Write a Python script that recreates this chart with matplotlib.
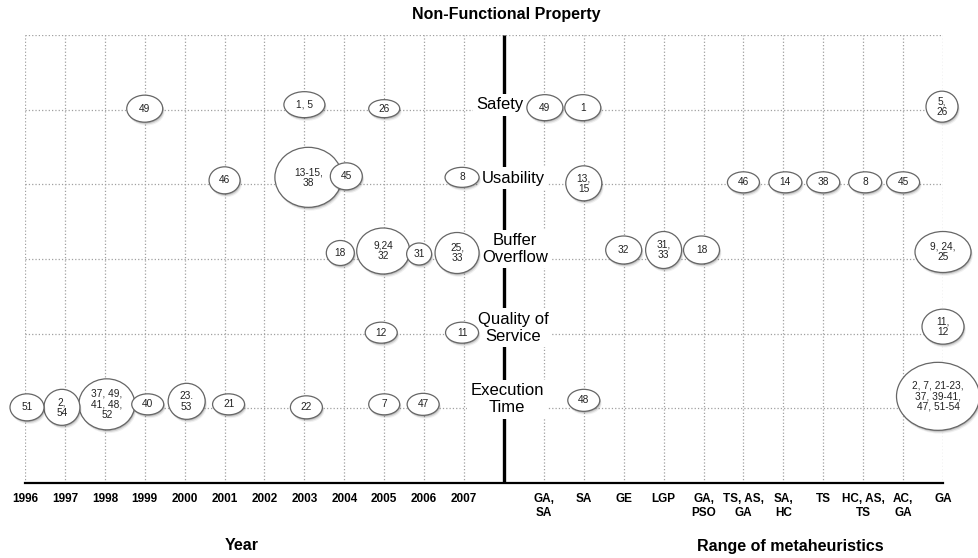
import matplotlib
matplotlib.use("Agg")
import matplotlib.pyplot as plt
from matplotlib.patches import Ellipse
from matplotlib.transforms import ScaledTranslation

plt.rcParams['font.family'] = ['Liberation Sans', 'DejaVu Sans']

# categories
years = ['1996', '1997', '1998', '1999', '2000', '2001', '2002',
         '2003', '2004', '2005', '2006', '2007']
methods = ['GA,\nSA', 'SA', 'GE', 'LGP', 'GA,\nPSO', 'TS, AS,\nGA',
           'SA,\nHC', 'TS', 'HC, AS,\nTS', 'AC,\nGA', 'GA']
# bottom to top
properties = ['Execution\nTime', 'Quality of\nService', 'Buffer\nOverflow',
              'Usability', 'Safety']

# papers per year and property
year_of = ['1999', '2003', '2005',
           '2001', '2003', '2004', '2007',
           '2004', '2005', '2006', '2007',
           '2005', '2007',
           '1996', '1997', '1998', '1999', '2000', '2001', '2003', '2005', '2006']
year_prop = ['Safety'] * 3 + ['Usability'] * 4 + ['Buffer\nOverflow'] * 4 + \
            ['Quality of\nService'] * 2 + ['Execution\nTime'] * 9
year_refs = ['49', '1, 5', '26',
             '46', '13-15,\n38', '45', '8',
             '18', '9,24\n32', '31', '25,\n33',
             '12', '11',
             '51', '2,\n54', '37, 49,\n41, 48,\n52', '40', '23.\n53', '21', '22', '7', '47']

# papers per metaheuristic and property
meth_of = ['GA,\nSA', 'SA', 'GA',
           'SA', 'TS, AS,\nGA', 'SA,\nHC', 'TS', 'HC, AS,\nTS', 'AC,\nGA',
           'GE', 'LGP', 'GA,\nPSO', 'GA',
           'GA',
           'SA', 'GA']
meth_prop = ['Safety'] * 3 + ['Usability'] * 6 + ['Buffer\nOverflow'] * 4 + \
            ['Quality of\nService'] + ['Execution\nTime'] * 2
meth_refs = ['49', '1', '5,\n26',
             '13,\n15', '46', '14', '38', '8', '45',
             '32', '31,\n33', '18', '9, 24,\n25',
             '11,\n12',
             '48', '2, 7, 21-23,\n37, 39-41,\n47, 51-54']

# bubble look: width, height, nudge x, nudge y (pixels)
year_px = [(36, 27, 0, 1), (41, 26, 0, 5), (31, 18, 0, 1),
           (31, 27, 0, 4), (67, 60, 4, 7), (32, 27, 2, 8), (34, 20, -2, 7),
           (28, 25, -4, 6), (53, 46, -1, 8), (25, 22, -5, 5), (44, 41, -7, 6),
           (32, 21, -3, 1), (33, 21, -2, 1),
           (34, 27, 2, 1), (36, 36, -3, 1), (56, 51, 2, 4), (32, 21, 3, 4),
           (37, 36, 2, 7), (32, 21, 4, 4), (32, 23, 2, 1), (31, 21, 0, 4), (32, 22, -1, 4)]
meth_px = [(36, 26, 1, 2), (36, 26, -1, 2), (32, 31, -1, 3),
           (36, 35, 0, 1), (32, 21, 0, 2), (33, 21, 2, 2), (33, 21, 0, 2), (33, 21, 2, 2), (33, 21, 0, 2),
           (36, 28, 0, 9), (36, 37, 0, 9), (36, 28, -2, 9), (56, 41, 0, 7),
           (42, 35, 0, 7),
           (32, 22, 0, 8), (83, 68, -5, 12)]
# where the property names sit relative to the centre line (pixels)
label_nudge = [(3, 9), (9, 6), (11, 10), (9, 6), (-4, 5)]

W, H = 979, 558
fig = plt.figure(figsize=(W / 100, H / 100), dpi=100)
ax = fig.add_axes([25 / W, 75 / H, 918 / W, 448 / H])
ax.set_xlim(0, 23)
ax.set_ylim(0, 6)
xs = 918 / 23.0   # px per x unit
ys = 448 / 6.0    # px per y unit

grid = dict(ls=':', color='#a0a0a0', lw=0.9, zorder=1)
for y in range(1, 7):
    ax.plot([0, 23], [y, y], **grid)
for x in range(24):
    if x != 12:
        ax.plot([x, x], [0, 6], **grid)
ax.plot([12, 12], [0, 6], color='black', lw=2.4, zorder=3, solid_capstyle='butt')

for i, p in enumerate(properties):
    ndx, ndy = label_nudge[i]
    ax.text(12 + ndx / xs, i + 1 + ndy / ys, p, ha='center', va='center', fontsize=12,
            linespacing=1.15, zorder=4,
            bbox=dict(facecolor='white', edgecolor='none', pad=2.5))

bubbles = []
for yr, pr, ref, px in zip(year_of, year_prop, year_refs, year_px):
    bubbles.append((years.index(yr), properties.index(pr) + 1, ref, px))
for m, pr, ref, px in zip(meth_of, meth_prop, meth_refs, meth_px):
    bubbles.append((13 + methods.index(m), properties.index(pr) + 1, ref, px))

# big ones first so small ones sit on top
bubbles.sort(key=lambda b: -b[3][0] * b[3][1])
z = 5
for x, y, ref, (w, h, dx, dy) in bubbles:
    cx = x + dx / xs
    cy = y + dy / ys
    for k, a in [(3, 0.07), (2, 0.14), (1, 0.22)]:
        sh = Ellipse((cx, cy), w / xs, h / ys, facecolor='#333333', edgecolor='none',
                     alpha=a, zorder=z, clip_on=False)
        sh.set_transform(ax.transData + ScaledTranslation(k * 0.6 / 100, -k * 1.1 / 100,
                                                          fig.dpi_scale_trans))
        ax.add_patch(sh)
    ax.add_patch(Ellipse((cx, cy), w / xs, h / ys, facecolor='white', edgecolor='#666666',
                         lw=0.9, zorder=z + 1, clip_on=False))
    ax.text(cx, cy, ref, ha='center', va='center', fontsize=7.3, color='#222222',
            linespacing=1.05, zorder=z + 2, clip_on=False)
    z += 3

for s in ['left', 'right', 'top']:
    ax.spines[s].set_visible(False)
ax.spines['bottom'].set_linewidth(1.6)
ax.spines['bottom'].set_zorder(3)
ax.set_yticks([])
ax.set_xticks(list(range(12)) + list(range(13, 24)))
ax.set_xticklabels(years + methods, fontsize=8.5, fontweight='bold')
ax.tick_params(axis='x', length=0, pad=7)

fig.text(506 / W, 1 - 15 / H, 'Non-Functional Property', ha='center', va='center',
         fontsize=11.5, fontweight='bold')
fig.text(242 / W, 1 - 546 / H, 'Year', ha='center', va='center',
         fontsize=11.5, fontweight='bold')
fig.text(790 / W, 1 - 546 / H, 'Range of metaheuristics', ha='center', va='center',
         fontsize=11.5, fontweight='bold')

fig.savefig('out.png', dpi=100)
